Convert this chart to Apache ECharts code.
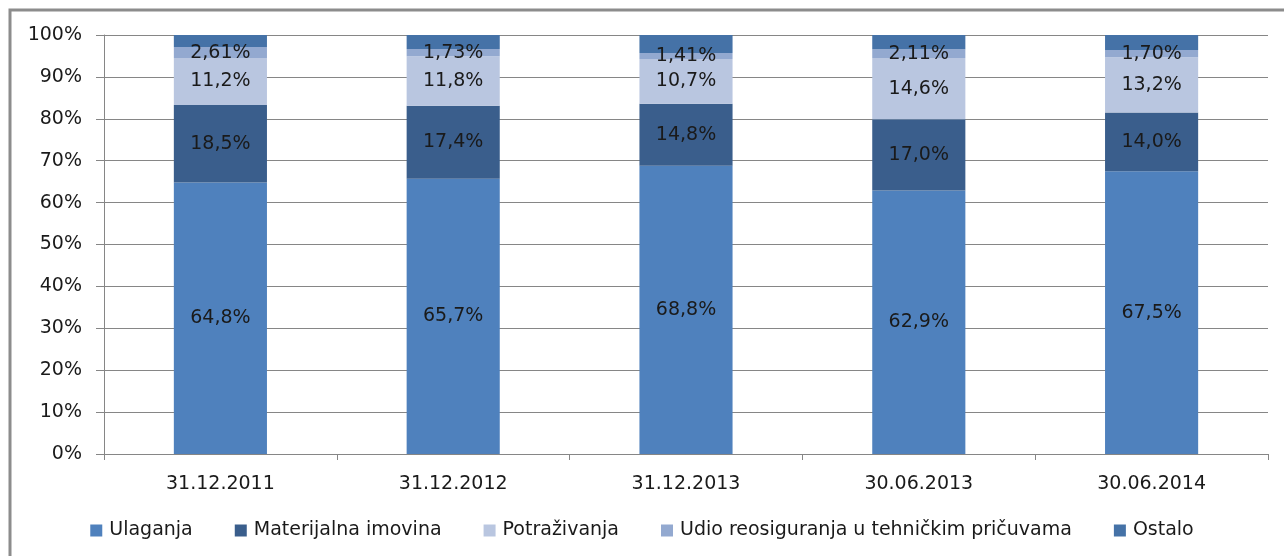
<!DOCTYPE html>
<html>
<head>
<meta charset="utf-8">
<script src="https://cdn.jsdelivr.net/npm/echarts@6/dist/echarts.min.js"></script>
<style>
  html, body { margin: 0; padding: 0; background: #fff; }
  #chart { width: 1284px; height: 556px; }
</style>
</head>
<body>
<div id="chart"></div>
<script>
const categories = ['31.12.2011', '31.12.2012', '31.12.2013', '30.06.2013', '30.06.2014']
const ulaganja = [64.8, 65.7, 68.8, 62.9, 67.5]
const materijalna = [18.5, 17.4, 14.8, 17.0, 14.0]
const potrazivanja = [11.2, 11.8, 10.7, 14.6, 13.2]
const udio = [2.61, 1.73, 1.41, 2.11, 1.70]
const ostalo = [2.89, 3.37, 4.29, 3.39, 3.60]
const yTicks = [0, 10, 20, 30, 40, 50, 60, 70, 80, 90, 100]

const font = '"DejaVu Sans", sans-serif'
const fmt = (v, d) => v.toFixed(d).replace('.', ',') + '%'

// stacked segment with centred label
function seg(name, data, color, decimals) {
  return {
    name,
    type: 'bar',
    stack: 'all',
    barWidth: '40%',
    data,
    itemStyle: { color },
    label: {
      show: decimals !== null,
      position: 'inside',
      color: '#1a1a1a',
      fontFamily: font,
      fontSize: 19,
      formatter: p => fmt(p.value, decimals)
    },
    emphasis: { disabled: true }
  }
}

const chart = echarts.init(document.getElementById('chart'))
chart.setOption({
  animation: false,
  backgroundColor: '#fff',
  grid: { left: 104, right: 16, top: 35, bottom: 102 },
  legend: {
    bottom: 11,
    left: 'center',
    itemWidth: 12,
    itemHeight: 12,
    itemGap: 42,
    icon: 'rect',
    textStyle: { fontFamily: font, fontSize: 19, color: '#1a1a1a', padding: [0, 0, 0, 2] },
    data: ['Ulaganja', 'Materijalna imovina', 'Potraživanja', 'Udio reosiguranja u tehničkim pričuvama', 'Ostalo']
  },
  xAxis: {
    type: 'category',
    data: categories,
    axisLine: { lineStyle: { color: '#868686' } },
    axisTick: { show: true, length: 6, lineStyle: { color: '#868686' } },
    axisLabel: { fontFamily: font, fontSize: 19, color: '#1a1a1a', margin: 21 }
  },
  yAxis: {
    type: 'value',
    min: yTicks[0],
    max: yTicks[yTicks.length - 1],
    interval: 10,
    axisLine: { show: true, lineStyle: { color: '#868686' } },
    axisTick: { show: true, length: 8, lineStyle: { color: '#868686' } },
    splitLine: { lineStyle: { color: '#868686' } },
    axisLabel: { fontFamily: font, fontSize: 19, color: '#1a1a1a', margin: 22, formatter: '{value}%' }
  },
  graphic: [{
    type: 'rect',
    shape: { x: 10, y: 10, width: 1290, height: 560 },
    style: { fill: 'none', stroke: '#8c8c8c', lineWidth: 3 },
    silent: true
  }],
  series: [
    seg('Ulaganja', ulaganja, '#4f81bd', 1),
    seg('Materijalna imovina', materijalna, '#3a5e8c', 1),
    seg('Potraživanja', potrazivanja, '#b9c6e0', 1),
    seg('Udio reosiguranja u tehničkim pričuvama', udio, '#93a9d0', 2),
    seg('Ostalo', ostalo, '#4572a7', null)
  ]
})
window.onresize = () => chart.resize()
</script>
</body>
</html>
